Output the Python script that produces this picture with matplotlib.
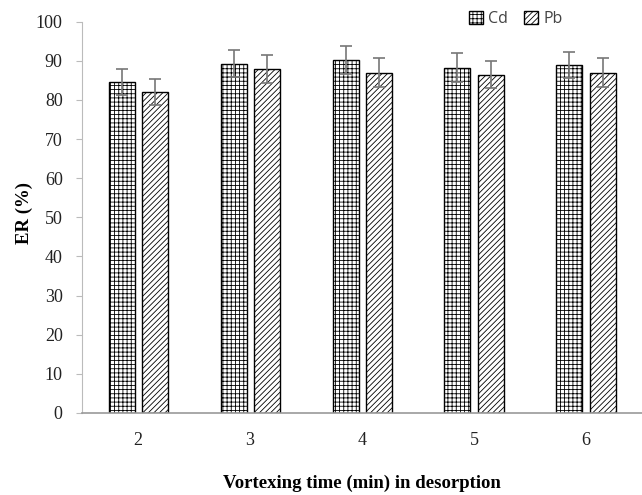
import matplotlib
matplotlib.use("Agg")
import matplotlib.pyplot as plt
import numpy as np

# vortexing time categories and extraction recoveries
times = ["2", "3", "4", "5", "6"]
cd_er = [84.6, 89.3, 90.3, 88.3, 88.9]
cd_err = [3.3, 3.4, 3.6, 3.6, 3.4]
pb_er = [82.0, 87.9, 87.0, 86.5, 87.0]
pb_err = [3.3, 3.6, 3.7, 3.5, 3.7]

plt.rcParams["hatch.linewidth"] = 0.6
plt.rcParams["hatch.color"] = "#333333"

fig = plt.figure(figsize=(6.42, 4.95), dpi=100)
ax = fig.add_axes([0.128, 0.166, 0.872, 0.790])

x = np.arange(len(times))
w = 0.232
err_kw = {"ecolor": "#777777", "elinewidth": 1.2, "capsize": 4, "capthick": 1.2}
ax.bar(x - 0.148, cd_er, w, yerr=cd_err, color="white", edgecolor="black",
       linewidth=1.0, hatch="++++", label="Cd", error_kw=err_kw)
ax.bar(x + 0.148, pb_er, w, yerr=pb_err, color="white", edgecolor="black",
       linewidth=1.0, hatch="//////", label="Pb", error_kw=err_kw)

ax.set_xlim(-0.5, 4.5)
ax.set_ylim(0, 100)
ax.set_yticks(range(0, 101, 10))
ax.set_xticks(x)
ax.set_xticklabels(times)

serif = "Liberation Serif"
for lab in ax.get_xticklabels() + ax.get_yticklabels():
    lab.set_family(serif)
    lab.set_fontsize(13)
    lab.set_color("#222222")

ax.spines["top"].set_visible(False)
ax.spines["right"].set_visible(False)
ax.spines["left"].set_color("#bbbbbb")
ax.spines["bottom"].set_color("#999999")
ax.spines["bottom"].set_linewidth(1.2)
ax.tick_params(axis="y", length=4, color="#bbbbbb", pad=10)
ax.tick_params(axis="x", length=0, pad=14)

ax.set_ylabel("ER (%)", family=serif, fontsize=13.5, weight="bold")
ax.yaxis.set_label_coords(-0.088, 0.51)
ax.set_xlabel("Vortexing time (min) in desorption", family=serif, fontsize=13.5,
              weight="bold", labelpad=18)

leg = ax.legend(loc="upper left", bbox_to_anchor=(0.665, 1.065), ncol=2, frameon=False,
                handlelength=0.9, handleheight=0.9, handletextpad=0.3,
                columnspacing=1.0,
                prop={"family": ["Liberation Sans Narrow", "Open Sans"], "size": 11.5})
for t in leg.get_texts():
    t.set_color("#444444")

fig.savefig("out.png", dpi=100)
